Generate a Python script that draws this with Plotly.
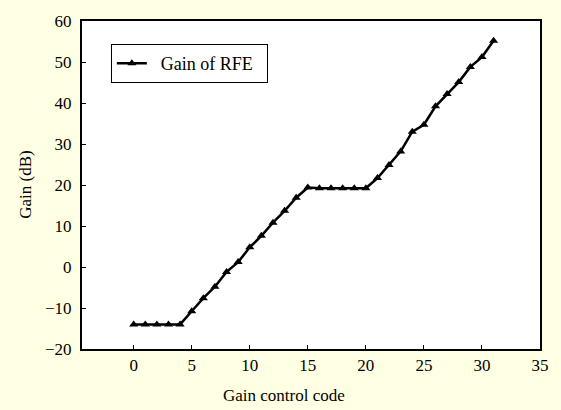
import plotly.graph_objects as go

codes = list(range(32))
gain_db = [-14, -14, -14, -14, -14, -10.8, -7.6, -4.8, -1.2, 1.2, 4.8, 7.6, 10.8, 13.7, 16.9, 19.4,
           19.2, 19.2, 19.2, 19.2, 19.2, 21.7, 24.9, 28.2, 33.0, 34.7, 39.2, 42.2, 45.1, 48.8, 51.2, 55.2]
x_ticks = [0, 5, 10, 15, 20, 25, 30, 35]
y_ticks = [-20, -10, 0, 10, 20, 30, 40, 50, 60]

BG = "#FFFFE3"
FONT = "Liberation Serif, Times New Roman, serif"

fig = go.Figure()
fig.add_trace(go.Scatter(
    x=codes, y=gain_db, mode="lines+markers", name="\u00a0\u00a0Gain of RFE\u00a0\u00a0",
    line=dict(color="black", width=2.5),
    marker=dict(symbol="triangle-up", size=8, color="black"),
))

fig.update_layout(
    width=561, height=410,
    margin=dict(l=82, r=18, t=15, b=61),
    paper_bgcolor=BG, plot_bgcolor="white",
    font=dict(family=FONT, size=17, color="black"),
    showlegend=True,
    legend=dict(x=0.063, y=0.93, xanchor="left", yanchor="top",
                bgcolor="white", bordercolor="black", borderwidth=1,
                font=dict(size=18, family=FONT), tracegroupgap=0),
    xaxis=dict(range=[-4.45, 35], tickvals=x_ticks, ticks="inside", ticklen=4,
               tickcolor="black", showline=True, linecolor="black", linewidth=2,
               mirror=True, showgrid=False, zeroline=False),
    yaxis=dict(range=[-20, 60], tickvals=y_ticks, ticks="inside", ticklen=4,
               tickcolor="black", showline=True, linecolor="black", linewidth=2,
               mirror=True, showgrid=False, zeroline=False, ticklabelstandoff=5,
               ticktext=[("\u2212" + str(-v)) if v < 0 else str(v) for v in y_ticks]),
    annotations=[
        dict(text="Gain control code", xref="paper", yref="paper", x=0.44, y=-0.141,
             xanchor="center", yanchor="middle", showarrow=False, font=dict(size=17)),
        dict(text="Gain (dB)", xref="paper", yref="paper", x=-0.125, y=0.5,
             xanchor="center", yanchor="middle", textangle=-90, showarrow=False,
             font=dict(size=17)),
    ],
)

fig.write_html("out.html")
